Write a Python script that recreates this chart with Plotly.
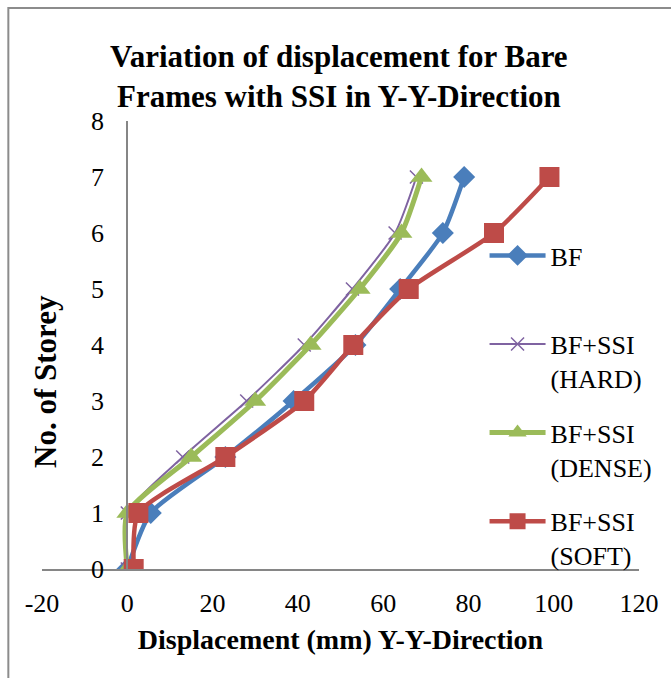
import plotly.graph_objects as go

storeys = [0, 1, 2, 3, 4, 5, 6, 7]
bf = [0, 5.5, 23, 39, 53.5, 64, 74, 79]
bf_hard = [0, 0, 13, 28, 41.5, 52.8, 62.8, 67.8]
bf_dense = [0, 0, 15, 30, 43, 54.5, 64.3, 69]
bf_soft = [1.5, 2.6, 23, 41.5, 53, 66, 86, 99]

names = ["BF<br> ", "BF+SSI<br>(HARD)", "BF+SSI<br>(DENSE)", "BF+SSI<br>(SOFT)"]
series = [bf, bf_hard, bf_dense, bf_soft]
x_ticks = [-20, 0, 20, 40, 60, 80, 100, 120]
x_tick_text = ["-20", "0", "20", "40", "60", "80", "100", "120"]
colors = ["#4A7EBB", "#7F63A1", "#9BBB59", "#BE4B48"]
symbols = ["diamond", "x-thin", "triangle-up", "square"]
msizes = [17, 13, 19, 20]
lwidths = [4.5, 2, 5, 4.5]

FONT = "Liberation Serif, Times New Roman, serif"

fig = go.Figure()
for i, (nm, s) in enumerate(zip(names, series)):
    mk = dict(symbol=symbols[i], size=msizes[i], color=colors[i], line=dict(width=0))
    if symbols[i] == "x-thin":
        mk["line"] = dict(width=1.5, color=colors[i])
    fig.add_trace(go.Scatter(
        x=s, y=storeys, name=nm, mode="lines+markers",
        line=dict(color=colors[i], width=lwidths[i], shape="spline", smoothing=0.6),
        marker=mk, legendgroup=str(i),
    ))

W, H = 671, 678
L, R, T, B = 42, 26, 121, 109
pw = W - L - R
ph = H - T - B

def px_to_paper_x(px):
    return (px - L) / pw

def px_to_paper_y(py):
    return (H - B - py) / ph

fig.update_layout(
    width=W, height=H,
    margin=dict(l=L, r=R, t=T, b=B),
    paper_bgcolor="white", plot_bgcolor="white",
    font=dict(family=FONT, size=26, color="black"),
    title=dict(
        text="<b>Variation of displacement for Bare<br>Frames with SSI in Y-Y-Direction</b>",
        x=0.505, xanchor="center", y=1 - 66.5 / H, yanchor="middle",
        font=dict(family=FONT, size=31, color="black"),
    ),
    showlegend=True,
    legend=dict(
        x=px_to_paper_x(489), xanchor="left",
        y=px_to_paper_y(232), yanchor="top",
        font=dict(family=FONT, size=26, color="black"),
        tracegroupgap=18, valign="top", itemwidth=56,
        bgcolor="rgba(0,0,0,0)",
    ),
    xaxis=dict(
        range=[-20, 120], tickmode="array", tickvals=x_ticks, ticktext=x_tick_text,
        showgrid=False, zeroline=False, showline=True,
        linecolor="#868686", linewidth=2, ticks="",
        ticklabelstandoff=10,
        tickfont=dict(family=FONT, size=26, color="black"),
        title=dict(text="<b>Displacement (mm) Y-Y-Direction</b>",
                   font=dict(family=FONT, size=28, color="black"), standoff=12),
    ),
    yaxis=dict(
        range=[0, 8], tickmode="linear", tick0=0, dtick=1,
        showgrid=False, zeroline=False, showline=True,
        linecolor="#868686", linewidth=2, ticks="",
        anchor="free", position=20 / 140,
        ticklabelstandoff=17,
        tickfont=dict(family=FONT, size=26, color="black"),
    ),
    annotations=[dict(
        text="<b>No. of Storey</b>", textangle=-90,
        xref="paper", yref="paper",
        x=px_to_paper_x(45), y=px_to_paper_y(381),
        xanchor="center", yanchor="middle", showarrow=False,
        font=dict(family=FONT, size=31, color="black"),
    )],
    shapes=[dict(
        type="rect", xref="paper", yref="paper",
        x0=px_to_paper_x(8), x1=px_to_paper_x(720),
        y0=px_to_paper_y(720), y1=px_to_paper_y(8),
        line=dict(color="#8C8C8C", width=2), fillcolor="rgba(0,0,0,0)",
        layer="below",
    )],
)

fig.write_html("out.html")
